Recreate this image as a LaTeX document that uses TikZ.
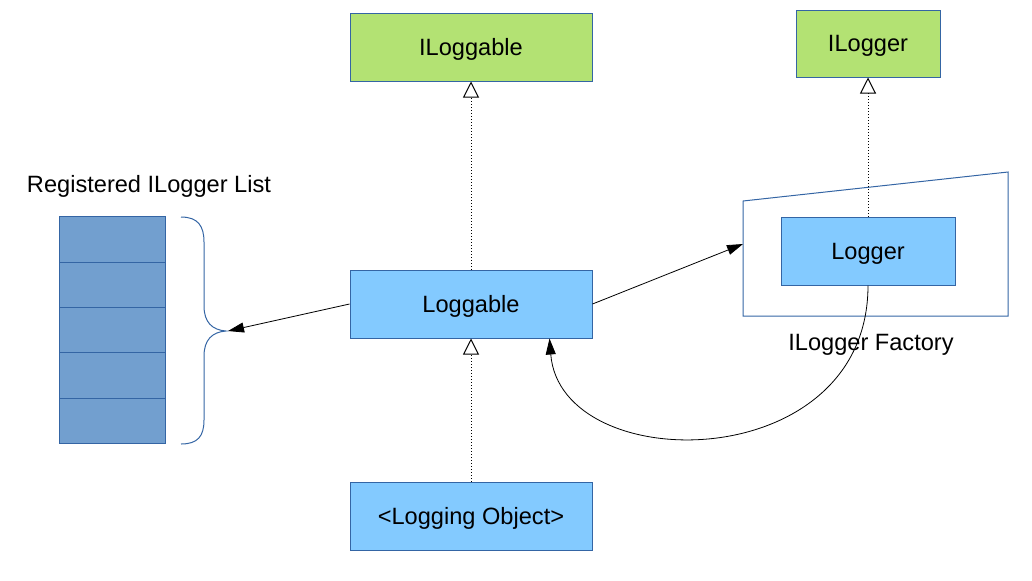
\documentclass[tikz,border=0pt]{standalone}
\usepackage{fontspec}
\setmainfont{Liberation Sans}
\usetikzlibrary{positioning,arrows.meta}

\definecolor{ifacegreen}{RGB}{179,226,115}
\definecolor{classblue}{RGB}{131,202,255}
\definecolor{listblue}{RGB}{114,159,207}
\definecolor{edgeblue}{RGB}{52,101,164}

\begin{document}
\begin{tikzpicture}[
  x=0.5pt, y=-0.5pt,
  every node/.style = {align=center, font=\fontsize{11.8}{14}\selectfont,
    text height=8.45pt, text depth=0pt},
  iface/.style = {shape=rectangle, draw=edgeblue, fill=ifacegreen, line width=0.5pt},
  cls/.style = {shape=rectangle, draw=edgeblue, fill=classblue, line width=0.5pt,
    minimum width=121pt, minimum height=34pt},
  cell/.style = {shape=rectangle, draw=edgeblue, fill=listblue, line width=0.5pt,
    minimum width=53pt, minimum height=22.65pt, inner sep=0pt},
  realize/.style = {densely dotted, line width=0.5pt, -{Triangle[open, length=8pt, width=8pt]}},
  uses/.style = {line width=0.4pt, -{Triangle[length=8pt, width=5pt]}}
    ]
  \useasboundingbox (0,0) rectangle (1032,580);

  % classes and interfaces
  \node[iface, minimum width=121pt, minimum height=34pt] (iloggable) at (471,47) {ILoggable};
  \node[iface, minimum width=72pt, minimum height=33.5pt] (ilogger) at (868,43.5) {ILogger};
  \node[cls] (loggable) at (471,304) {Loggable};
  \node[cls] (object) at (471,516) {<Logging Object>};
  \node[cls, minimum width=87pt] (logger) at (868,251) {Logger};

  % factory
  \draw[edgeblue, line width=0.5pt] (743,201) -- (1008,172) -- (1008,316) -- (743,316) -- cycle;
  \coordinate (factoryin) at (743,244);
  \node (factorylabel) at (871,342) {ILogger Factory};

  % logger list
  \node (listlabel) at (149,184) {Registered ILogger List};
  \foreach \i in {0,...,4}
    \node[cell] (cell\i) at (112,{239.6+45.3*\i}) {};
  \draw[edgeblue, line width=0.5pt] (181,217) .. controls (198,217) and (204,226) .. (204,242)
    -- (204,306) .. controls (204,322) and (212,330) .. (226,331)
    .. controls (212,332) and (204,340) .. (204,356)
    -- (204,420) .. controls (204,436) and (198,444) .. (181,444);
  \coordinate (bracetip) at (228,331);

  % connectors
  \draw[realize] (loggable) -- (iloggable);
  \draw[realize] (object) -- (loggable);
  \draw[realize] (logger) -- (ilogger);
  \draw[uses] (loggable.west) -- (bracetip);
  \draw[uses] (loggable.east) -- (factoryin);
  \draw[uses] (logger.south) .. controls +(0,192) and +(11,140) .. ([xshift=-21.5pt]loggable.south east);
\end{tikzpicture}
\end{document}
